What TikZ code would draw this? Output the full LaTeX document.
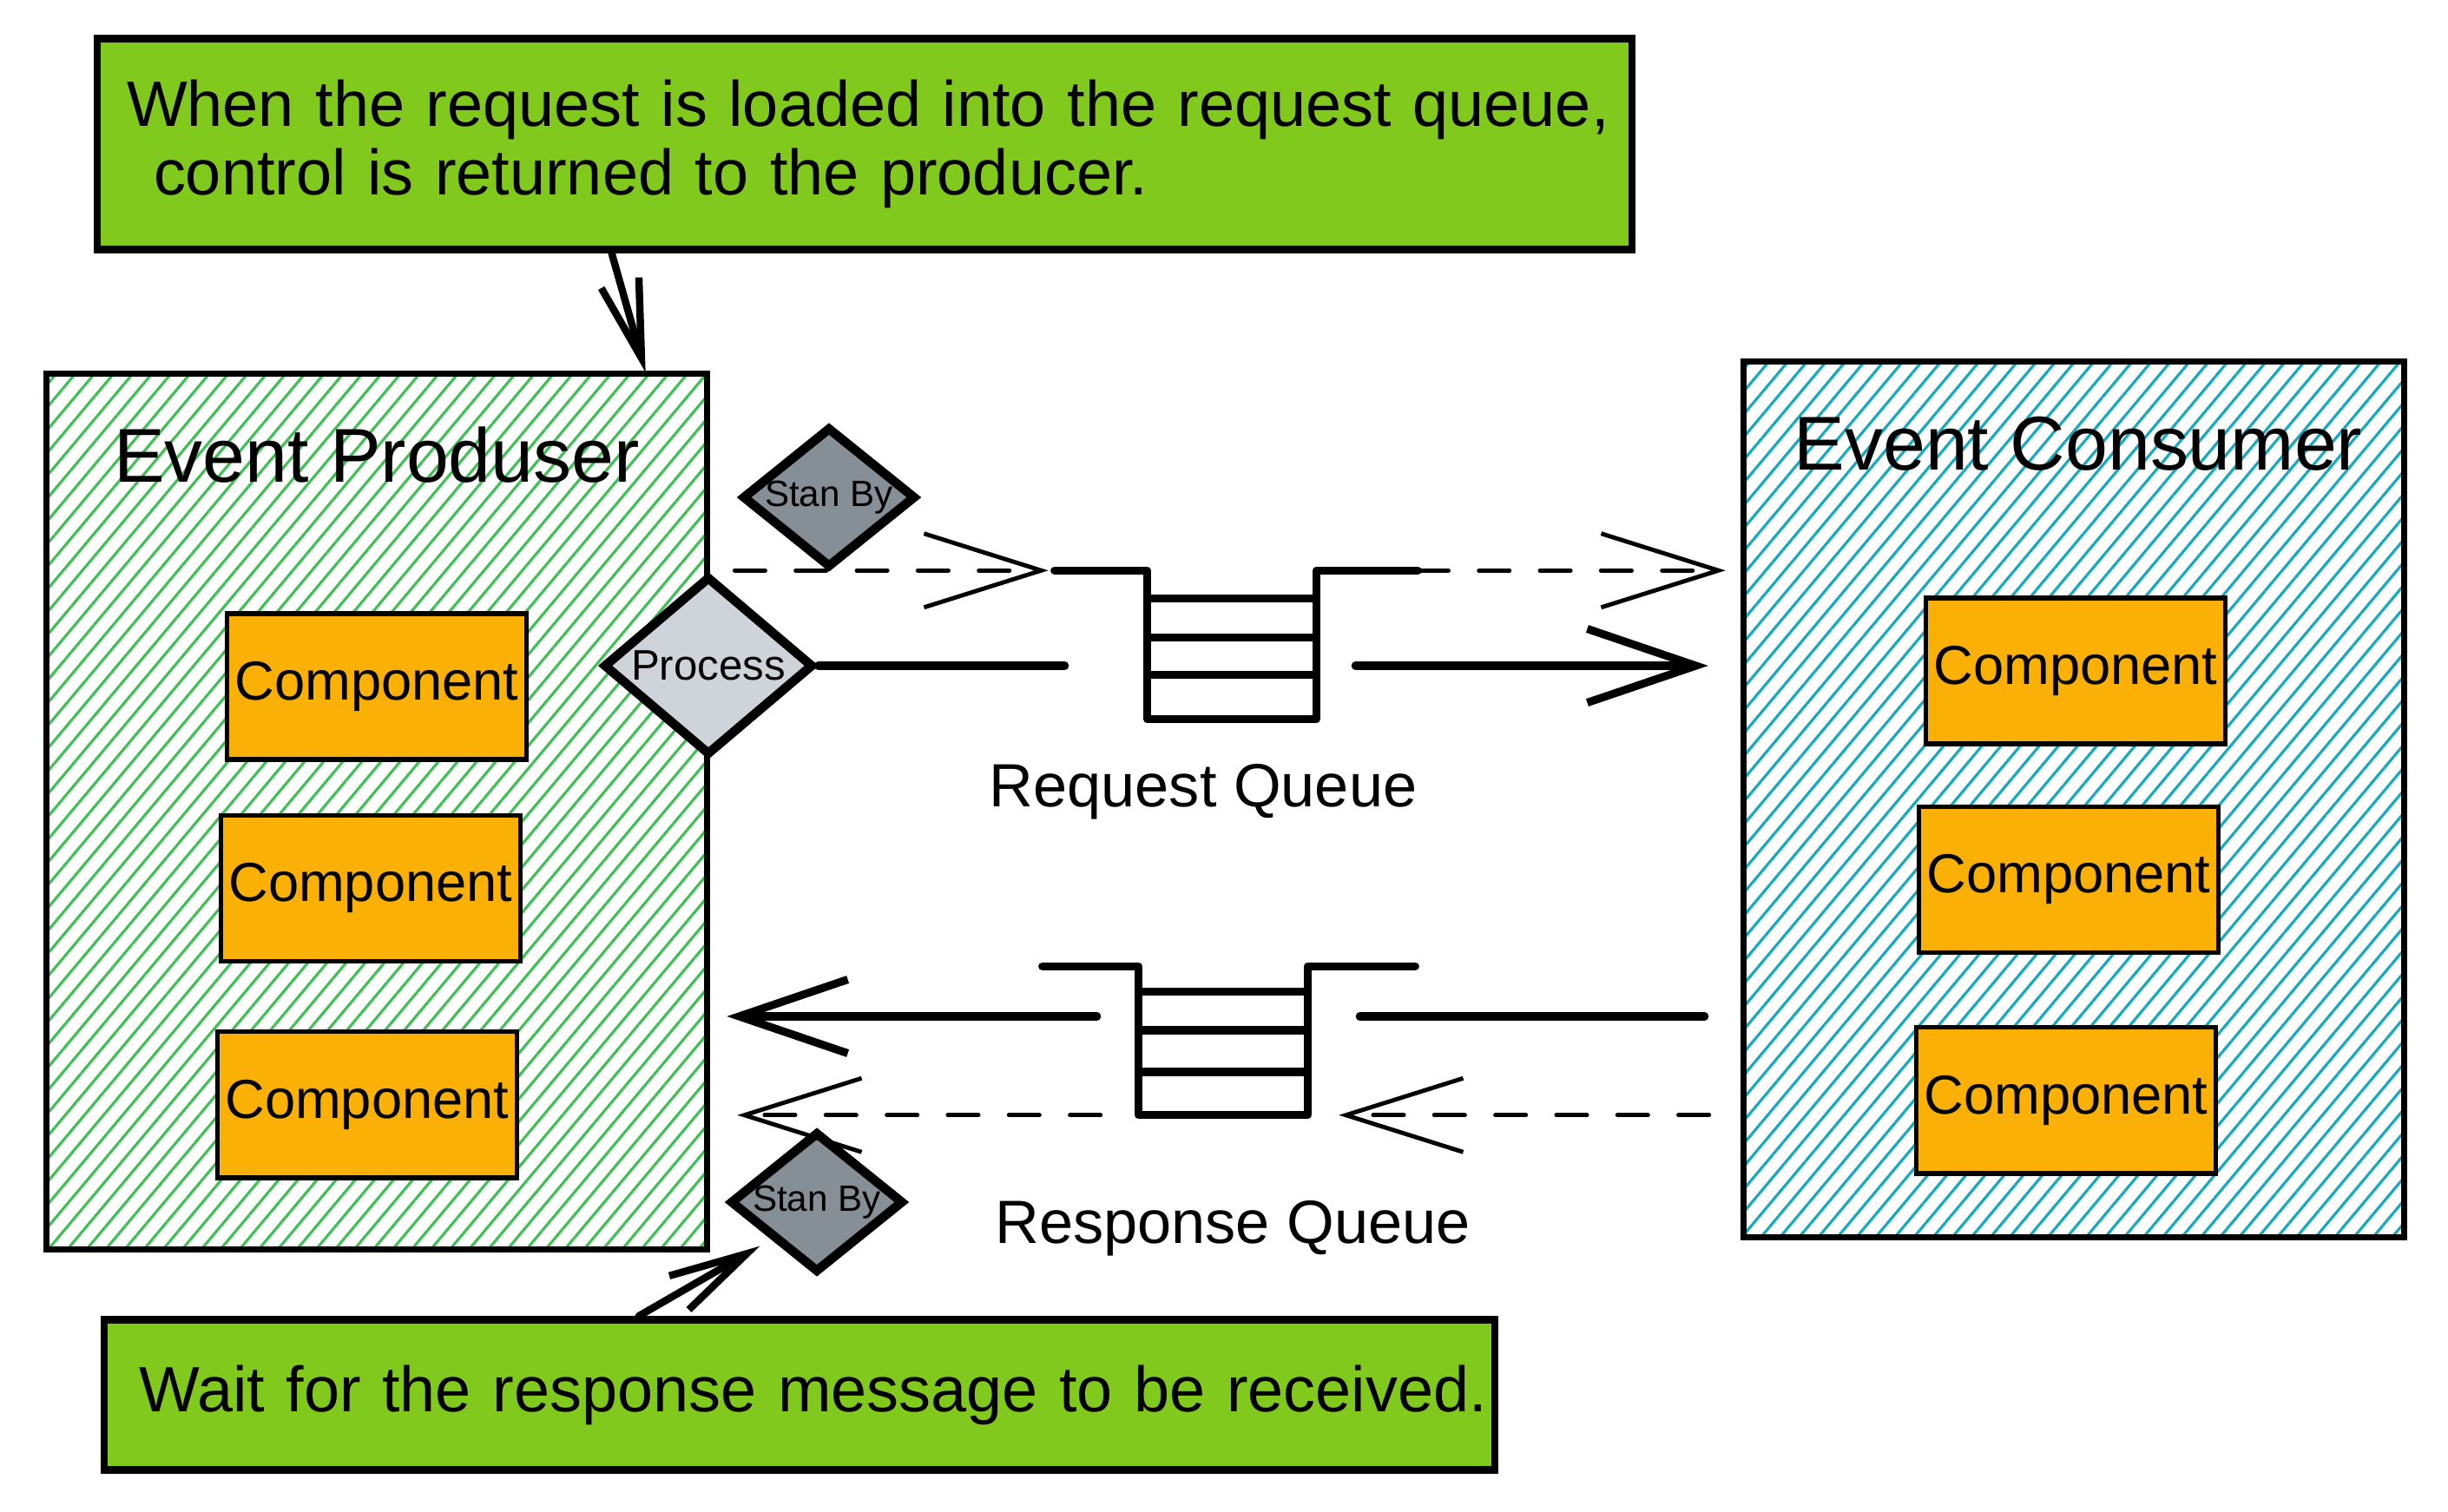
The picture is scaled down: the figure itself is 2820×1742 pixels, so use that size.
\documentclass[tikz,border=0pt]{standalone}
\usepackage{fontspec}
\setmainfont{Liberation Sans}
\definecolor{notegreen}{HTML}{82C91E}
\definecolor{compyellow}{HTML}{FAB005}
\definecolor{hatchgreen}{HTML}{40C057}
\definecolor{hatchcyan}{HTML}{15AABF}
\definecolor{procgray}{HTML}{CED4DA}
\definecolor{waitgray}{HTML}{868E96}
\usetikzlibrary{arrows.meta, positioning, shapes.geometric, calc, patterns.meta}
\tikzset{
	note/.style={rectangle, draw=black, fill=notegreen, line width=2.4pt, align=left, inner xsep=0.15cm, inner ysep=0pt, font=\fontsize{21}{22.4}\selectfont},
	service/.style={rectangle, draw=black, line width=2pt, minimum width=7.61cm, minimum height=10.08cm},
	prodbox/.style={service, pattern={Lines[angle=50, distance=4.8pt, line width=0.9pt]}, pattern color=hatchgreen},
	consbox/.style={service, pattern={Lines[angle=50, distance=4.8pt, line width=0.9pt]}, pattern color=hatchcyan},
	boxtitle/.style={font=\fontsize{25}{30}\selectfont},
	comp/.style={rectangle, draw=black, fill=compyellow, line width=1.5pt, minimum width=3.45cm, minimum height=1.68cm, inner sep=0pt, font=\fontsize{18}{21}\selectfont},
	procdia/.style={diamond, aspect=1.17, draw=black, fill=procgray, line width=3pt, minimum width=2.42cm, minimum height=2.06cm, inner sep=0pt, font=\fontsize{14}{16}\selectfont},
	waitdia/.style={diamond, aspect=1.22, draw=black, fill=waitgray, line width=3pt, minimum width=2.0cm, minimum height=1.62cm, inner sep=0pt, font=\fontsize{12}{14}\selectfont},
	queuebox/.style={rectangle, minimum width=1.93cm, minimum height=1.70cm, inner sep=0pt},
	queueline/.style={line width=2.6pt, line cap=round, line join=round},
	qlabel/.style={font=\fontsize{20}{24}\selectfont},
	flow/.style={line width=2.6pt, line cap=round},
	flowarrow/.style={flow, -{Straight Barb[length=1.25cm, width=0.85cm]}},
	waitarrow/.style={line width=1.4pt, line cap=round, dash pattern=on 10pt off 10pt, -{Straight Barb[length=1.35cm, width=0.85cm]}},
	notearrow/.style={line width=2.4pt, line cap=round, -{Straight Barb[length=0.9cm, width=0.45cm]}},
}
\begin{document}
\begin{tikzpicture}[x=0.01cm, y=-0.01cm]
	\fill[white] (0,0) rectangle (2820,1742);
	\useasboundingbox (0,0) rectangle (2820,1742);
	% notes
	\node[note, minimum width=17.67cm, minimum height=2.43cm, text width=17.37cm] (note1) at (996,166) {\hspace*{0.19cm}When the request is loaded into the request queue,\\\hspace*{0.5cm}control is returned to the producer.};
	\node[note, inner xsep=0.05cm, minimum width=16.01cm, minimum height=1.73cm, text width=15.91cm] (note2) at (921,1607) {\hspace*{0.35cm}Wait for the response message to be received.};
	% producer and consumer
	\node[prodbox] (prod) at (434,935) {};
	\node[boxtitle] (prodtitle) at ([yshift=-0.95cm]prod.north) {Event Produser};
	\node[comp] (pc1) at (434,791) {Component};
	\node[comp, below=0.59cm of pc1, xshift=-0.07cm] (pc2) {Component};
	\node[comp, below=0.76cm of pc2, xshift=-0.04cm] (pc3) {Component};
	\node[consbox] (cons) at (2389,921) {};
	\node[boxtitle] (constitle) at ([yshift=-0.98cm, xshift=0.05cm]cons.north) {Event Consumer};
	\node[comp] (cc1) at (2391,773) {Component};
	\node[comp, below=0.67cm of cc1, xshift=-0.08cm] (cc2) {Component};
	\node[comp, below=0.81cm of cc2, xshift=-0.03cm] (cc3) {Component};
	% states
	\node[procdia] (proc) at (816,767) {Process};
	\node[waitdia] (waitreq) at (955,573) {Stan By};
	\node[waitdia] (waitres) at (941,1385) {Stan By};
	% queues
	\node[queuebox] (reqq) at (1419,743) {};
	\node[queuebox] (resq) at (1409,1199) {};
	\node[qlabel] (reqlabel) at (1386,912) {Request Queue};
	\node[qlabel] (reslabel) at (1420,1415) {Response Queue};
	\draw[queueline] ([xshift=-1.07cm]reqq.north west) -- (reqq.north west) -- (reqq.south west) -- (reqq.south east) -- (reqq.north east) -- ++(1.17cm,0);
	\foreach \f in {0.19,0.45,0.70}
		\draw[queueline] ($(reqq.north west)!\f!(reqq.south west)$) -- ($(reqq.north east)!\f!(reqq.south east)$);
	\draw[queueline] ([xshift=-1.11cm]resq.north west) -- (resq.north west) -- (resq.south west) -- (resq.south east) -- (resq.north east) -- ++(1.24cm,0);
	\foreach \f in {0.17,0.43,0.71}
		\draw[queueline] ($(resq.north west)!\f!(resq.south west)$) -- ($(resq.north east)!\f!(resq.south east)$);
	% request side
	\draw[waitarrow, shorten <=0.3cm] (prod.east |- reqq.north) -- ([xshift=-1.14cm]reqq.north west);
	\draw[waitarrow, shorten >=0.17cm] ([xshift=1.17cm]reqq.north east) -- (cons.west |- reqq.north);
	\draw[flow] (proc.east) -- ([xshift=-0.95cm]reqq.west |- proc.east);
	\draw[flowarrow, shorten >=0.37cm] ([xshift=0.45cm]reqq.east |- proc.east) -- (cons.west |- proc.east);
	% response side
	\coordinate (reslevel) at ([yshift=0.28cm]resq.center);
	\draw[flow, shorten <=0.41cm] (cons.west |- reslevel) -- ([xshift=0.6cm]resq.east |- reslevel);
	\draw[flowarrow, shorten >=0.21cm] ([xshift=-0.48cm]resq.west |- reslevel) -- (prod.east |- reslevel);
	\draw[waitarrow, shorten <=0.36cm] (cons.west |- resq.south) -- ([xshift=0.36cm]resq.south east);
	\draw[waitarrow, shorten >=0.33cm] ([xshift=-0.44cm]resq.south west) -- (prod.east |- resq.south);
	% notes to boxes
	\draw[notearrow] ($(note1.south west)!0.336!(note1.south east)$) -- ($(prod.north west)!0.905!(prod.north east)$);
	\draw[notearrow, shorten >=0.15cm] ($(note2.north west)!0.385!(note2.north east)$) -- (waitres.south west);
\end{tikzpicture}
\end{document}
